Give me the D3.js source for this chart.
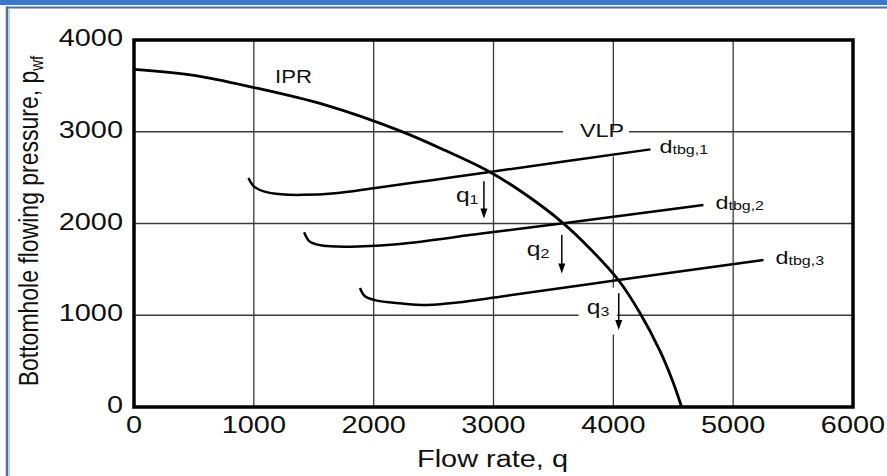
<!DOCTYPE html>
<html>
<head>
<meta charset="utf-8">
<script src="https://cdn.jsdelivr.net/npm/d3@7"></script>
<style>
  html, body { margin: 0; padding: 0; background: #fff; }
  svg { display: block; }
  text { font-family: "Liberation Sans", Arial, Helvetica, sans-serif; fill: #111; }
</style>
</head>
<body>
<svg id="chart" width="887" height="476"></svg>
<script>
// Axis ticks
const xTicks = [0, 1000, 2000, 3000, 4000, 5000, 6000];
const yTicks = [0, 1000, 2000, 3000, 4000];

// Inflow performance relationship (IPR)
const iprQ = [0, 500, 1000, 1600, 2220, 2600, 2970, 3280, 3583, 3810, 4042, 4220, 4390, 4490, 4570];
const iprP = [3680, 3615, 3482, 3290, 3010, 2795, 2562, 2305, 2002, 1720, 1384, 1030, 610, 300, 0];

// Vertical lift performance (VLP) for three tubing sizes
const vlp1Q = [955, 1000, 1090, 1230, 1400, 1680, 2000, 2500, 2970, 4310];
const vlp1P = [2495, 2405, 2347, 2318, 2312, 2330, 2385, 2475, 2562, 2808];
const vlp2Q = [1420, 1465, 1560, 1700, 1870, 2220, 2900, 3583, 4752];
const vlp2P = [1905, 1805, 1762, 1748, 1750, 1777, 1890, 2002, 2202];
const vlp3Q = [1886, 1925, 2010, 2220, 2450, 2700, 3055, 4042, 5253];
const vlp3P = [1297, 1210, 1165, 1130, 1112, 1140, 1202, 1384, 1602];
const vlpSubs = ["tbg,1", "tbg,2", "tbg,3"];

// Operating-point arrows: rate and arrow start/end pressures
const opQ = [2920, 3570, 4045];
const opTop = [2460, 1875, 1240];
const opBottom = [2055, 1455, 838];
const opSubs = ["1", "2", "3"];

const svg = d3.select("#chart");
const W = 887, H = 476;
const stretch = 1.23;

// page decoration
svg.append("rect").attr("x", 0).attr("y", 0).attr("width", W).attr("height", 5).attr("fill", "#4472c4");
svg.append("line").attr("x1", 6).attr("x2", W).attr("y1", 7.5).attr("y2", 7.5)
  .attr("stroke", "#4f6f9f").attr("stroke-width", 2);
svg.append("line").attr("x1", 7).attr("x2", 7).attr("y1", 6.5).attr("y2", H)
  .attr("stroke", "#4f6f9f").attr("stroke-width", 2.5);
svg.append("line").attr("x1", 9.2).attr("x2", 9.2).attr("y1", 9).attr("y2", H)
  .attr("stroke", "#a9bbd6").attr("stroke-width", 1);

const x = d3.scaleLinear().domain([0, 6000]).range([134, 853]);
const y = d3.scaleLinear().domain([0, 4000]).range([407, 40]);

// grid
const grid = svg.append("g");
grid.selectAll("line.v").data(xTicks.slice(1, -1)).join("line")
  .attr("x1", d => x(d)).attr("x2", d => x(d)).attr("y1", y(4000)).attr("y2", y(0))
  .attr("stroke", "#3a3a3a").attr("stroke-width", 1.3);
grid.selectAll("line.h").data(yTicks.slice(1, -1)).join("line")
  .attr("x1", x(0)).attr("x2", x(6000)).attr("y1", d => y(d)).attr("y2", d => y(d))
  .attr("stroke", "#3a3a3a").attr("stroke-width", 1.3);

// helper for horizontally widened text
function label(g, px, py, anchor, size) {
  return g.append("g").attr("transform", `translate(${px},${py}) scale(${stretch},1)`)
    .append("text").attr("text-anchor", anchor).attr("font-size", size);
}

// tick labels
xTicks.forEach(t => label(svg, x(t), 433, "middle", 23.5).text(t));
yTicks.forEach(t => label(svg, 123, y(t) + 6, "end", 23.5).text(t));

// axis titles
label(svg, x(3000) - 1, 467, "middle", 23.5).text("Flow rate, q");
const yt = svg.append("g").attr("transform", `translate(38,221) scale(${stretch},1) rotate(-90)`)
  .append("text").attr("text-anchor", "middle").attr("font-size", 23);
yt.append("tspan").text("Bottomhole flowing pressure, p");
yt.append("tspan").attr("font-size", 15).attr("dy", 4).text("wf");

// curves
const line = d3.line().x(d => x(d[0])).y(d => y(d[1])).curve(d3.curveCatmullRom.alpha(0.5));
const zip = (a, b) => a.map((v, i) => [v, b[i]]);
const vlps = [zip(vlp1Q, vlp1P), zip(vlp2Q, vlp2P), zip(vlp3Q, vlp3P)];

// label backgrounds
const bgVLP = { q0: 3580, q1: 4130, p0: 2730, p1: 3020 };
svg.append("rect").attr("x", x(bgVLP.q0)).attr("y", y(bgVLP.p1))
  .attr("width", x(bgVLP.q1) - x(bgVLP.q0)).attr("height", y(bgVLP.p0) - y(bgVLP.p1)).attr("fill", "#fff");
const bgQ3 = { q0: 3710, q1: 4030, p0: 790, p1: 1300 };
svg.append("rect").attr("x", x(bgQ3.q0)).attr("y", y(bgQ3.p1))
  .attr("width", x(bgQ3.q1) - x(bgQ3.q0)).attr("height", y(bgQ3.p0) - y(bgQ3.p1)).attr("fill", "#fff");

svg.append("path").attr("d", line(zip(iprQ, iprP))).attr("fill", "none")
  .attr("stroke", "#000").attr("stroke-width", 2.8);
svg.selectAll("path.vlp").data(vlps).join("path").attr("class", "vlp")
  .attr("d", line).attr("fill", "none").attr("stroke", "#000").attr("stroke-width", 2.5);

// frame
svg.append("rect").attr("x", x(0)).attr("y", y(4000))
  .attr("width", x(6000) - x(0)).attr("height", y(0) - y(4000))
  .attr("fill", "none").attr("stroke", "#000").attr("stroke-width", 3.5);

// curve labels
label(svg, 275, 83, "start", 18).text("IPR");
label(svg, 580, 137, "start", 19).text("VLP");
vlps.forEach((pts, i) => {
  const end = pts[pts.length - 1];
  const t = label(svg, x(end[0]) + 9 + (i ? 3 : 0), y(end[1]) + 4, "start", 19);
  t.append("tspan").text("d");
  t.append("tspan").attr("font-size", 13).attr("dy", 1).text(vlpSubs[i]);
});

// operating point arrows
opQ.forEach((q, i) => {
  const ax = x(q), y0 = y(opTop[i]), y1 = y(opBottom[i]);
  svg.append("line").attr("x1", ax).attr("x2", ax).attr("y1", y0).attr("y2", y1 - 8)
    .attr("stroke", "#000").attr("stroke-width", 1.5);
  svg.append("path").attr("d", `M${ax - 3.5},${y1 - 10} L${ax + 3.5},${y1 - 10} L${ax},${y1} Z`).attr("fill", "#000");
  const t = label(svg, ax - 28 - (i === 1 ? 7 : i === 2 ? 4 : 0), y0 + 21, "start", 20);
  t.append("tspan").text("q");
  t.append("tspan").attr("font-size", 13).attr("dy", 2).text(opSubs[i]);
});
</script>
</body>
</html>
